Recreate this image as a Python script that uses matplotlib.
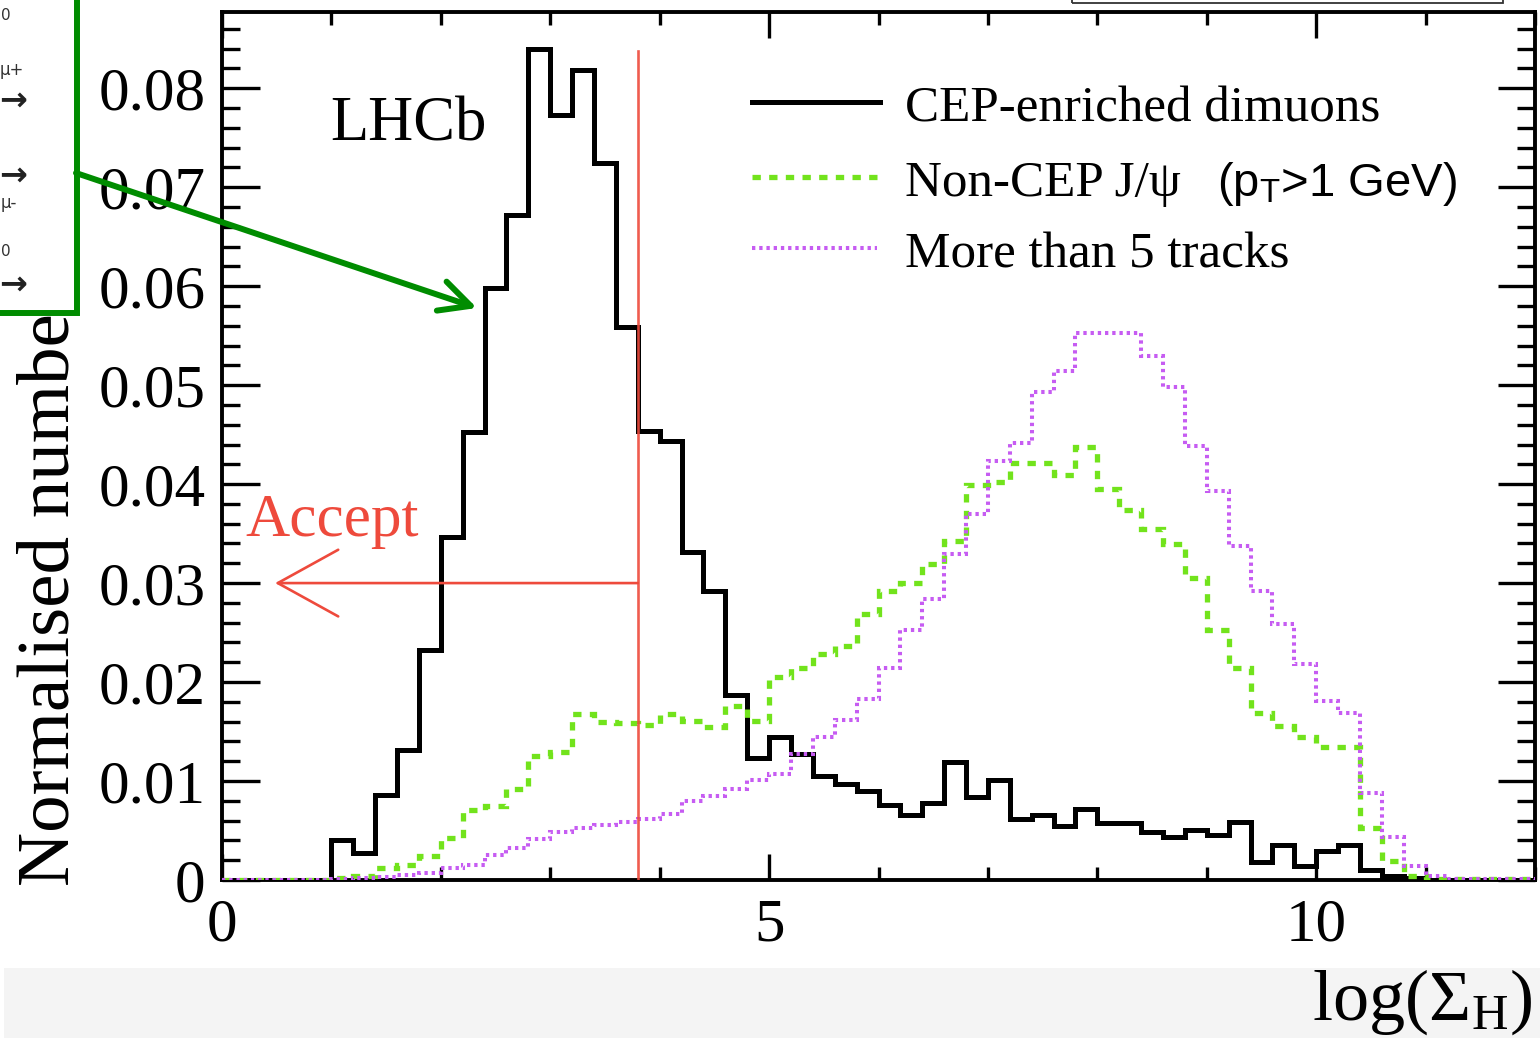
import numpy as np
import matplotlib
matplotlib.use("Agg")
import matplotlib.pyplot as plt
from matplotlib.patches import Rectangle, FancyArrowPatch
from matplotlib.lines import Line2D
from matplotlib.ticker import MultipleLocator, FixedLocator, FixedFormatter

# ---------------------------------------------------------------- data
# log(Sigma_H) binning: 60 bins of 0.2 between 0 and 12
bin_edges = np.linspace(0.0, 12.0, 61)

cep_dimuons = [
    0, 0, 0, 0, 0, 0.0040, 0.0027, 0.0086, 0.0131, 0.0232,
    0.0347, 0.0453, 0.0598, 0.0672, 0.0840, 0.0773, 0.0818, 0.0724, 0.0559, 0.0454,
    0.0444, 0.0331, 0.0292, 0.0187, 0.0123, 0.0144, 0.0127, 0.0105, 0.0097, 0.0090,
    0.0076, 0.0066, 0.0078, 0.0119, 0.0084, 0.0101, 0.0062, 0.0066, 0.0055, 0.0072,
    0.0058, 0.0058, 0.0049, 0.0043, 0.0051, 0.0045, 0.0059, 0.0018, 0.0035, 0.0014,
    0.0029, 0.0035, 0.0010, 0.0004, 0.0002, 0, 0, 0, 0, 0,
]

non_cep_jpsi = [
    0, 0, 0, 0, 0, 0.0002, 0.0004, 0.0012, 0.0015, 0.0024,
    0.0042, 0.0071, 0.0075, 0.0092, 0.0125, 0.0129, 0.0168, 0.0160, 0.0159, 0.0157,
    0.0168, 0.0161, 0.0155, 0.0176, 0.0161, 0.0205, 0.0214, 0.0228, 0.0236, 0.0269,
    0.0292, 0.0300, 0.0319, 0.0343, 0.0399, 0.0402, 0.0421, 0.0421, 0.0409, 0.0437,
    0.0395, 0.0374, 0.0355, 0.0339, 0.0305, 0.0253, 0.0214, 0.0169, 0.0156, 0.0144,
    0.0134, 0.0134, 0.0053, 0.0019, 0.0004, 0.0001, 0.0001, 0.0001, 0.0001, 0.0001,
]

more_than_5 = [
    0, 0, 0, 0, 0, 0.0001, 0.0002, 0.0003, 0.0005, 0.0007,
    0.0012, 0.0015, 0.0025, 0.0032, 0.0041, 0.0049, 0.0053, 0.0056, 0.0059, 0.0062,
    0.0067, 0.0080, 0.0085, 0.0092, 0.0101, 0.0107, 0.0127, 0.0144, 0.0162, 0.0183,
    0.0214, 0.0253, 0.0284, 0.0329, 0.0370, 0.0423, 0.0442, 0.0493, 0.0514, 0.0553,
    0.0553, 0.0553, 0.0529, 0.0498, 0.0438, 0.0393, 0.0337, 0.0292, 0.0259, 0.0218,
    0.0181, 0.0169, 0.0088, 0.0043, 0.0014, 0.0004, 0.0001, 0.0001, 0.0001, 0.0001,
]

series_labels = ["CEP-enriched dimuons", "Non-CEP J/\u03c8", "More than 5 tracks"]
cut_value = 3.8          # selection cut on log(Sigma_H)
cut_line_top = 0.0838
arrow_level = 0.03
arrow_end = 0.485

y_tick_values = [0, 0.01, 0.02, 0.03, 0.04, 0.05, 0.06, 0.07, 0.08]
y_tick_labels = ["0", "0.01", "0.02", "0.03", "0.04", "0.05", "0.06", "0.07", "0.08"]
x_tick_values = [0, 5, 10]
x_tick_labels = ["0", "5", "10"]

# ---------------------------------------------------------------- style
plt.rcParams['font.family'] = ['Liberation Serif', 'DejaVu Serif']
plt.rcParams['mathtext.fontset'] = 'custom'
plt.rcParams['mathtext.rm'] = 'Liberation Serif'
plt.rcParams['mathtext.it'] = 'Liberation Serif:italic'
plt.rcParams['lines.scale_dashes'] = False

BLACK = '#000000'
GREEN = '#72e31c'
MAGENTA = '#c65cf2'
RED = '#ee4a3c'
BOX_GREEN = '#008c00'

W, H = 1540, 1038
fig = plt.figure(figsize=(W / 100, H / 100), dpi=100, facecolor='white')


def fx(px):
    return px / W


def fy(py):
    return 1 - py / H


ax = fig.add_axes([fx(222), fy(880), (1535 - 222) / W, (880 - 12) / H])
ax.set_xlim(0, 12)
ax.set_ylim(0, 0.0877)

green_dash = (0, (6, 6))
magenta_dot = (0, (2.4, 2.8))

ax.stairs(cep_dimuons, bin_edges, color=BLACK, lw=3.6, zorder=3)
ax.stairs(non_cep_jpsi, bin_edges, color=GREEN, lw=3.8, linestyle=green_dash, zorder=4)
ax.stairs(more_than_5, bin_edges, color=MAGENTA, lw=2.9, linestyle=magenta_dot, zorder=5)

# selection cut and "Accept" arrow
ax.plot([cut_value, cut_value], [0, cut_line_top], color=RED, lw=1.9, alpha=0.9, zorder=6)
ax.annotate('', xy=(arrow_end, arrow_level), xytext=(cut_value, arrow_level),
            arrowprops=dict(arrowstyle='->,head_length=2.9,head_width=1.6',
                            color=RED, lw=1.9, shrinkA=0, shrinkB=0,
                            mutation_scale=15),
            zorder=6)
ax.text(0.21, 0.0348, 'Accept', color=RED, fontsize=44, ha='left', va='baseline')
ax.text(0.99, 0.0747, 'LHCb', color=BLACK, fontsize=45, ha='left', va='baseline')

# axes frame and ticks
for sp in ax.spines.values():
    sp.set_linewidth(2.8)
ax.xaxis.set_major_locator(FixedLocator(x_tick_values))
ax.xaxis.set_major_formatter(FixedFormatter(x_tick_labels))
ax.xaxis.set_minor_locator(MultipleLocator(1))
ax.yaxis.set_major_locator(FixedLocator(y_tick_values))
ax.yaxis.set_major_formatter(FixedFormatter(y_tick_labels))
ax.yaxis.set_minor_locator(MultipleLocator(0.002))
ax.tick_params(axis='both', which='both', direction='in', top=True, right=True,
               width=2.4, labelsize=44)
ax.tick_params(axis='x', which='major', length=19, pad=13)
ax.tick_params(axis='x', which='minor', length=9.5)
ax.tick_params(axis='y', which='major', length=27, pad=12)
ax.tick_params(axis='y', which='minor', length=13)

# legend
legend_rows = [102, 177, 248]
fig.add_artist(Line2D([fx(752), fx(880)], [fy(legend_rows[0])] * 2, color=BLACK, lw=3.6))
fig.add_artist(Line2D([fx(752), fx(880)], [fy(legend_rows[1])] * 2, color=GREEN, lw=3.8,
                      linestyle=green_dash))
fig.add_artist(Line2D([fx(752), fx(877)], [fy(legend_rows[2])] * 2, color=MAGENTA, lw=2.9,
                      linestyle=magenta_dot))
for label, row in zip(series_labels, legend_rows):
    fig.text(fx(905), fy(row + 19), label, fontsize=36.8, ha='left', va='baseline')
fig.text(fx(1217), fy(196), r'(p$_{\mathregular{T}}$>1 GeV)', family='Liberation Sans',
         fontsize=34, ha='left', va='baseline')

# axis titles
fig.text(fx(1532), fy(1020), r'log($\Sigma_{\rm H}$)', fontsize=52, ha='right', va='baseline')
fig.text(fx(51), fy(886), 'Normalised number', fontsize=54, rotation=90,
         ha='center', va='bottom', zorder=3)

# light strip along the bottom of the page
fig.add_artist(Rectangle((fx(4), 0), 1, fy(968), transform=fig.transFigure,
                         facecolor='#f4f4f4', edgecolor='none', zorder=-1))
# frame peeking in at the top right
fig.add_artist(Rectangle((fx(1072), fy(3)), fx(1503) - fx(1072), 0.05,
                         transform=fig.transFigure, facecolor='none',
                         edgecolor='#333333', lw=1.3, zorder=4))

# green call-out box with its arrow
fig.add_artist(Rectangle((fx(-20), fy(313)), fx(77) - fx(-20), 0.5,
                         transform=fig.transFigure, facecolor='white',
                         edgecolor=BOX_GREEN, lw=4.3, zorder=5))
for yy in (100, 175, 284):
    fig.text(fx(27), fy(yy), '\u2192', family='DejaVu Sans', fontsize=24,
             fontweight='bold', ha='right', va='center', color='#222222', zorder=6)
fig.text(fx(24), fy(70), '\u03bc+', family='DejaVu Sans', fontsize=12,
         ha='right', va='center', color='#333333', zorder=6)
fig.text(fx(17), fy(203), '\u03bc-', family='DejaVu Sans', fontsize=12,
         ha='right', va='center', color='#333333', zorder=6)
for yy in (16, 252):
    fig.text(fx(11), fy(yy), '0', family='DejaVu Sans', fontsize=11,
             ha='right', va='center', color='#333333', zorder=6)

fig.add_artist(FancyArrowPatch((fx(76), fy(173)), (fx(477), fy(308)),
                               transform=fig.transFigure,
                               arrowstyle='->,head_length=22,head_width=11',
                               mutation_scale=1, color=BOX_GREEN, lw=4.3,
                               capstyle='round', joinstyle='round',
                               shrinkA=0, shrinkB=0, zorder=7))

fig.savefig('out.png', dpi=100, facecolor='white')
